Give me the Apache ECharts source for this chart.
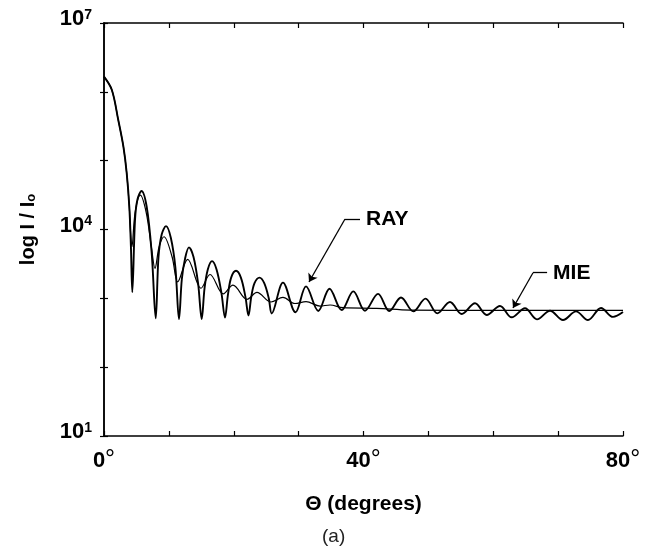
<!DOCTYPE html>
<html>
<head>
<meta charset="utf-8">
<script src="https://cdn.jsdelivr.net/npm/echarts@6/dist/echarts.min.js"></script>
<style>html,body{margin:0;padding:0;background:#fff}#c{width:649px;height:550px}</style>
</head>
<body>
<div id="c"></div>
<script>
// Scattering angle (degrees) and intensity I/I0
const rayTheta = [0, 1.2, 2.2, 3.0, 3.5, 3.9, 4.15, 4.36, 4.78, 5.14, 5.78, 6.58, 7.35, 7.97,
  8.4, 8.9, 9.56, 10.3, 11.0, 11.56, 12.0, 12.5, 13.1, 13.8, 14.5, 15.06,
  15.5, 16.0, 16.65, 17.35, 18.1, 18.65, 19.1, 19.6, 20.35, 21.1, 21.8, 22.27,
  22.7, 23.2, 23.97, 24.7, 25.4, 25.85, 27.59, 29.52, 31.14, 33.03, 34.76, 36.64,
  38.43, 40.23, 42.24, 43.98, 45.78, 47.68, 49.56, 51.38, 53.33, 55.14, 57.19, 58.99,
  61.04, 62.84, 64.89, 66.74, 68.75, 70.75, 72.76, 74.6, 76.61, 78.46, 80];
const rayI = [1.66e6, 1.07e6, 3.89e5, 1.58e5, 6.6e4, 2.14e4, 5620, 1230, 13800, 26900, 36300, 21400, 4570, 513,
  3980, 8510, 11200, 7590, 2820, 501, 1910, 3800, 5500, 3980, 1660, 501,
  1410, 2630, 3470, 2630, 1200, 525, 1120, 2000, 2510, 2000, 1050, 562,
  1050, 1660, 2000, 1660, 1000, 603, 1690, 627, 1490, 655, 1380, 676,
  1260, 661, 1160, 655, 1030, 646, 989, 605, 885, 592, 847, 573,
  773, 530, 716, 495, 661, 484, 646, 484, 724, 537, 631];

const mieTheta = [0, 1.2, 2.2, 3.0, 3.5, 3.9, 4.1, 4.3, 4.8, 5.6, 6.5, 7.3, 7.86, 8.5, 9.25, 10.5,
  11.36, 12.9, 14.95, 16.34, 18.39, 19.88, 22.04, 23.58, 25.74, 27.59, 29.44, 31.14,
  33.3, 34.84, 36.84, 42.03, 47.17, 60, 80];
const mieI = [1.66e6, 1.07e6, 3.89e5, 1.58e5, 6.6e4, 2.14e4, 8910, 5620, 17800, 31600, 17800, 5620, 2730, 5620, 7850, 3980,
  1740, 3690, 1400, 2220, 1160, 1560, 968, 1220, 885, 1030, 841, 893,
  773, 800, 731, 716, 676, 668, 668];

const xTicksLabelled = [0, 40, 80];
const yExpLabelled = [1, 4, 7];

// annotation leader lines: [start, corner, tip] in data coordinates
const rayLeader = [[39.46, 14190], [37.15, 14190], [31.6, 1726]];
const mieLeader = [[68.3, 2355], [66.13, 2355], [63.04, 723]];

const FONT = 'Liberation Sans, Arial, Helvetica, sans-serif';
const chart = echarts.init(document.getElementById('c'));

const xAxisBase = {
  type: 'value', min: 0, max: 80, interval: 10,
  axisLine: { show: true, lineStyle: { color: '#000', width: 1.5 } },
  axisTick: { show: true, inside: true, length: 5, lineStyle: { color: '#000', width: 1.2 } },
  splitLine: { show: false }
};
const yAxisBase = {
  type: 'log', logBase: 10, min: 10, max: 1e7,
  axisLine: { show: true, lineStyle: { color: '#000', width: 1.5 } },
  axisTick: { show: true, inside: true, length: 4, lineStyle: { color: '#000', width: 1.2 } },
  splitLine: { show: false }
};

function leaderLines(p) {
  return [
    [{ coord: p[0], symbol: 'none' }, { coord: p[1], symbol: 'none' }],
    [{ coord: p[1], symbol: 'none' }, { coord: p[2], symbol: 'arrow' }]
  ];
}
function leaderText(p, txt) {
  return {
    coord: p[0], symbol: 'circle', symbolSize: 0,
    label: { show: true, position: 'right', distance: 6, formatter: txt,
      color: '#000', fontFamily: FONT, fontWeight: 'bold', fontSize: 21 }
  };
}

chart.setOption({
  animation: false,
  backgroundColor: '#fff',
  grid: { left: 104, right: 26, top: 23, bottom: 114, containLabel: false },
  xAxis: [
    Object.assign({}, xAxisBase, {
      position: 'bottom',
      name: 'Θ (degrees)', nameLocation: 'middle', nameGap: 58,
      nameTextStyle: { color: '#000', fontFamily: FONT, fontWeight: 'bold', fontSize: 21 },
      axisLabel: {
        show: true, margin: 12, color: '#000',
        formatter: v => xTicksLabelled.indexOf(v) >= 0 ? '{b|' + v + '}{d|°}' : '',
        rich: {
          b: { fontFamily: FONT, fontWeight: 'bold', fontSize: 22, color: '#000' },
          d: { fontFamily: FONT, fontWeight: 'normal', fontSize: 25, color: '#000', verticalAlign: 'top' }
        }
      }
    }),
    Object.assign({}, xAxisBase, { position: 'top', axisLabel: { show: false } })
  ],
  yAxis: [
    Object.assign({}, yAxisBase, {
      position: 'left',
      name: '{t|log I / I}{s|o}', nameLocation: 'middle', nameGap: 66, nameRotate: 90,
      nameTextStyle: {
        rich: {
          t: { fontFamily: FONT, fontWeight: 'bold', fontSize: 20, color: '#000' },
          s: { fontFamily: FONT, fontWeight: 'bold', fontSize: 13, color: '#000', verticalAlign: 'bottom' }
        }
      },
      axisLabel: {
        show: true, margin: 12, padding: [0, 0, 8, 0],
        formatter: v => {
          const e = Math.round(Math.log10(v));
          return yExpLabelled.indexOf(e) >= 0 ? '{b|10}{s|' + e + '}' : '';
        },
        rich: {
          b: { fontFamily: FONT, fontWeight: 'bold', fontSize: 22, color: '#000' },
          s: { fontFamily: FONT, fontWeight: 'bold', fontSize: 14, color: '#000', verticalAlign: 'top' }
        }
      }
    }),
    Object.assign({}, yAxisBase, { position: 'right', axisLabel: { show: false } })
  ],
  graphic: [{
    type: 'text', left: 322, top: 527,
    style: { text: '(a)', font: '19px ' + FONT, fill: '#222' }
  }],
  series: [
    {
      name: 'RAY', type: 'line', xAxisIndex: 0, yAxisIndex: 0,
      data: rayTheta.map((t, i) => [t, rayI[i]]),
      showSymbol: false, smooth: 0.35,
      lineStyle: { color: '#000', width: 1.9 },
      markLine: {
        silent: true, symbolSize: 8, animation: false,
        lineStyle: { color: '#000', width: 1.3, type: 'solid' },
        label: { show: false },
        data: leaderLines(rayLeader)
      },
      markPoint: { silent: true, data: [leaderText(rayLeader, 'RAY')] }
    },
    {
      name: 'MIE', type: 'line', xAxisIndex: 0, yAxisIndex: 0,
      data: mieTheta.map((t, i) => [t, mieI[i]]),
      showSymbol: false, smooth: 0.35,
      lineStyle: { color: '#000', width: 1.2 },
      markLine: {
        silent: true, symbolSize: 8, animation: false,
        lineStyle: { color: '#000', width: 1.3, type: 'solid' },
        label: { show: false },
        data: leaderLines(mieLeader)
      },
      markPoint: { silent: true, data: [leaderText(mieLeader, 'MIE')] }
    }
  ]
});
</script>
</body>
</html>
